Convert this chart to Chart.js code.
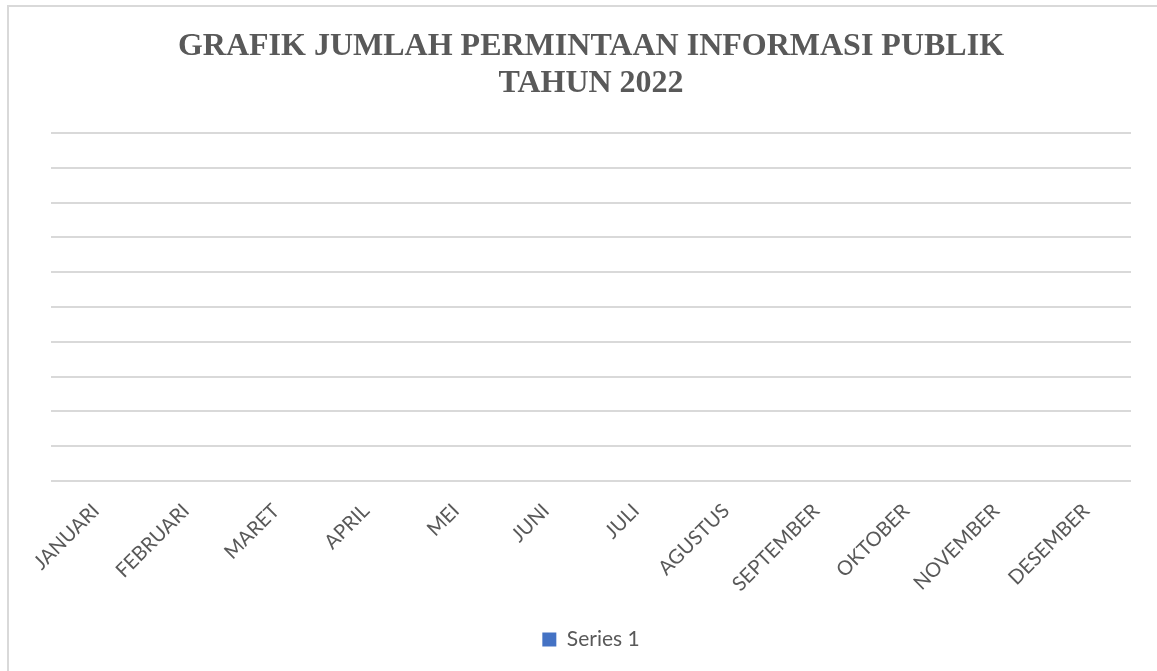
<!DOCTYPE html>
<html lang="id">
<head>
  <meta charset="UTF-8">
  <title>Grafik Permintaan Informasi Publik 2022</title>
  <script src="https://cdn.jsdelivr.net/npm/chart.js"></script>
</head>
<style>
  body {
    margin: 0;
    background-color: #ffffff;
  }

  .kotak {
    position: absolute;
    left: 0;
    top: 0;
    width: 1157px;
    height: 671px;
  }

  .bingkai {
    position: absolute;
    left: 7px;
    top: 5px;
    width: 1200px;
    height: 720px;
    border: 2px solid #d9d9d9;
  }
</style>

<body>
  <div class="bingkai"></div>
  <div class="kotak">
    <canvas id="grafikPermintaan"></canvas>
  </div>
</body>

</html>
<script>
  // data grafik
  const bulan = ["JANUARI", "FEBRUARI", "MARET", "APRIL", "MEI", "JUNI", "JULI",
    "AGUSTUS", "SEPTEMBER", "OKTOBER", "NOVEMBER", "DESEMBER"];
  const series1 = [0, 0, 0, 0, 0, 0, 0, 0, 0, 0, 0, 0];
  const judul = ["GRAFIK JUMLAH PERMINTAAN INFORMASI PUBLIK", "TAHUN 2022"];

  const ctx = document.getElementById("grafikPermintaan").getContext("2d");

  const grafik = new Chart(ctx, {
    type: "bar",
    data: {
      labels: bulan,
      datasets: [
        {
          label: "Series 1",
          data: series1,
          backgroundColor: "#4472c4",
          borderWidth: 0
        }
      ]
    },
    options: {
      responsive: true,
      maintainAspectRatio: false,
      animation: false,
      layout: {
        padding: { left: 51, right: 26, top: 28, bottom: 11 }
      },
      scales: {
        x: {
          grid: { display: false },
          border: { display: false },
          ticks: {
            color: "#595959",
            minRotation: 45,
            maxRotation: 45,
            padding: 10,
            font: { family: "Lato", size: 20 }
          },
          afterFit: (s) => { s.height = 138; }
        },
        y: {
          min: 0,
          max: 10,
          border: { display: false },
          grid: {
            color: "#d9d9d9",
            lineWidth: 2,
            drawTicks: false
          },
          ticks: { display: false, stepSize: 1 }
        }
      },
      plugins: {
        title: {
          display: true,
          text: judul,
          color: "#595959",
          padding: { top: 0, bottom: 31 },
          font: { family: "'Liberation Serif', 'Times New Roman', serif", size: 32, weight: "bold", lineHeight: 1.156 }
        },
        legend: {
          position: "bottom",
          labels: {
            color: "#595959",
            boxWidth: 14,
            boxHeight: 14,
            padding: 10,
            font: { family: "Lato", size: 21 }
          }
        },
        tooltip: { enabled: false }
      }
    }
  });
</script>
